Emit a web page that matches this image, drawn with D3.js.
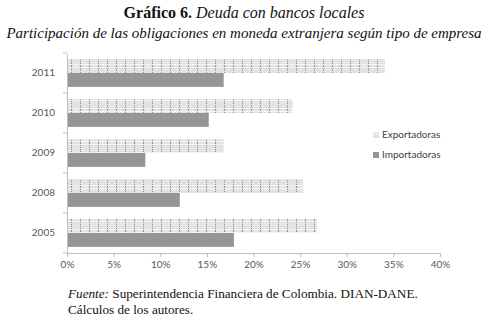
<!DOCTYPE html>
<html><head><meta charset="utf-8">
<script src="https://cdn.jsdelivr.net/npm/d3@7/dist/d3.min.js"></script>
<style>body{margin:0;background:#fff}svg{display:block}</style>
</head><body>
<script>
const years = ["2011","2010","2009","2008","2005"];
const exportadoras = [34.1, 24.2, 16.8, 25.3, 26.8];
const importadoras = [16.8, 15.2, 8.4, 12.1, 17.9];
const xTicks = [0,5,10,15,20,25,30,35,40];
const seriesNames = ["Exportadoras","Importadoras"];

const W=489,H=320;
const svg=d3.select("body").append("svg").attr("width",W).attr("height",H);
const defs=svg.append("defs");
const pat=defs.append("pattern").attr("id","dots").attr("patternUnits","userSpaceOnUse")
  .attr("width",9).attr("height",11).attr("x",67).attr("y",0);
pat.append("rect").attr("width",9).attr("height",11).attr("fill","#e3e3e3");
pat.append("line").attr("x1",4.5).attr("x2",4.5).attr("y1",0).attr("y2",11)
  .attr("stroke","#8a8a8a").attr("stroke-width",1).attr("stroke-dasharray","1,1");
pat.append("line").attr("x1",0).attr("x2",9).attr("y1",1.5).attr("y2",1.5)
  .attr("stroke","#ffffff").attr("stroke-width",1).attr("stroke-dasharray","1,1");
pat.append("line").attr("x1",0).attr("x2",9).attr("y1",9.5).attr("y2",9.5)
  .attr("stroke","#ffffff").attr("stroke-width",1).attr("stroke-dasharray","1,1");

const x=d3.scaleLinear().domain([0,40]).range([67,440]);
const y=d3.scaleBand().domain(years).range([53,253]).paddingInner(0).paddingOuter(0);
const inner=d3.scaleBand().domain(seriesNames).range([0,y.bandwidth()]).paddingInner(0).paddingOuter(0.44);

const axisFont="Lato, 'Open Sans', sans-serif";
// bars
years.forEach((yr,i)=>{
  svg.append("rect").attr("x",x(0)).attr("y",y(yr)+inner("Exportadoras"))
    .attr("width",x(exportadoras[i])-x(0)).attr("height",inner.bandwidth()).attr("fill","url(#dots)");
  svg.append("rect").attr("x",x(0)).attr("y",y(yr)+inner("Importadoras"))
    .attr("width",x(importadoras[i])-x(0)).attr("height",inner.bandwidth()).attr("fill","#969696");
});

// x axis
const gx=svg.append("g").attr("transform","translate(0,253)")
  .call(d3.axisBottom(x).tickValues(xTicks).tickFormat(d=>d+"%").tickSize(4).tickSizeOuter(0));
gx.select(".domain").attr("stroke","#bfbfbf");
gx.selectAll(".tick line").attr("stroke","#bfbfbf");
gx.selectAll("text").attr("fill","#595959").style("font-family",axisFont).style("font-size","10px").attr("dy","0.9em").attr("y",6);

// y axis
const gy=svg.append("g").attr("transform","translate(67,0)")
  .call(d3.axisLeft(y).tickSize(0).tickSizeOuter(0).tickPadding(12));
gy.select(".domain").attr("stroke","#bfbfbf");
gy.selectAll("text").attr("fill","#595959").style("font-family",axisFont).style("font-size","10px");
// boundary ticks
const bounds=years.map(d=>y(d)).concat([y.range()[1]]);
svg.append("g").selectAll("line").data(bounds).join("line")
  .attr("x1",63).attr("x2",67).attr("y1",d=>d).attr("y2",d=>d).attr("stroke","#bfbfbf");

// legend
const leg=svg.append("g").attr("transform","translate(373,132)");
seriesNames.forEach((s,i)=>{
  const g=leg.append("g").attr("transform",`translate(0,${i*20})`);
  g.append("rect").attr("width",6).attr("height",6).attr("y",0)
    .attr("fill",i===0?"url(#dots)":"#969696");
  g.append("text").attr("x",9).attr("y",6).text(s).attr("fill","#404040")
    .style("font-family",axisFont).style("font-size","10px");
});

// titles
const serif="'Liberation Serif', 'DejaVu Serif', serif";
const t1=svg.append("text").attr("x",244).attr("y",18).attr("text-anchor","middle")
  .style("font-family",serif).style("font-size","16px").attr("fill","#111");
t1.append("tspan").text("Gráfico 6. ").style("font-weight","bold");
t1.append("tspan").text("Deuda con bancos locales").style("font-style","italic");
svg.append("text").attr("x",244).attr("y",38).attr("text-anchor","middle")
  .style("font-family",serif).style("font-size","15px").style("font-style","italic").attr("fill","#111")
  .text("Participación de las obligaciones en moneda extranjera según tipo de empresa");

// footnote
const f1=svg.append("text").attr("x",68).attr("y",298)
  .style("font-family",serif).style("font-size","13.2px").attr("fill","#111");
f1.append("tspan").text("Fuente:").style("font-style","italic");
f1.append("tspan").text(" Superintendencia Financiera de Colombia. DIAN-DANE.");
svg.append("text").attr("x",68).attr("y",314)
  .style("font-family",serif).style("font-size","13.2px").attr("fill","#111")
  .text("Cálculos de los autores.");
</script>
</body></html>
